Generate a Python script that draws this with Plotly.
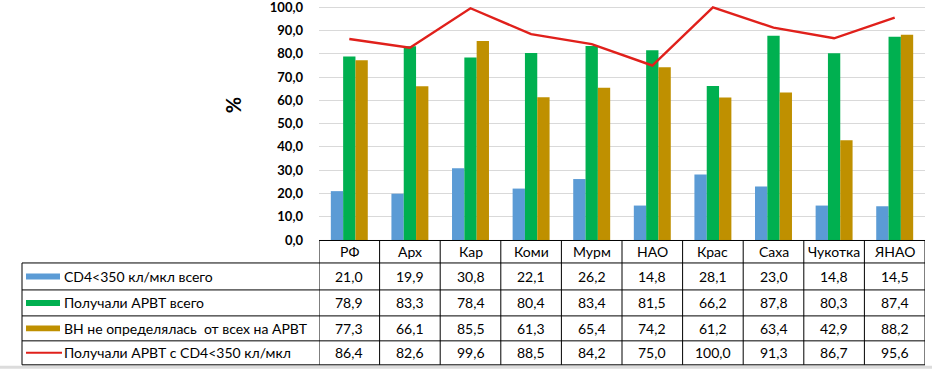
import plotly.graph_objects as go

categories = ["РФ", "Арх", "Кар", "Коми", "Мурм", "НАО", "Крас", "Саха", "Чукотка", "ЯНАО"]
cd4_total = [21.0, 19.9, 30.8, 22.1, 26.2, 14.8, 28.1, 23.0, 14.8, 14.5]
arvt_total = [78.9, 83.3, 78.4, 80.4, 83.4, 81.5, 66.2, 87.8, 80.3, 87.4]
vl_not_measured = [77.3, 66.1, 85.5, 61.3, 65.4, 74.2, 61.2, 63.4, 42.9, 88.2]
arvt_cd4 = [86.4, 82.6, 99.6, 88.5, 84.2, 75.0, 100.0, 91.3, 86.7, 95.6]
y_ticks = [0, 10, 20, 30, 40, 50, 60, 70, 80, 90, 100]

series_names = [
    "CD4<350 кл/мкл всего",
    "Получали АРВТ всего",
    "ВН не определялась  от всех на АРВТ",
    "Получали АРВТ с CD4<350 кл/мкл",
]
colors = ["#5B9BD5", "#00B050", "#BF9000", "#E0201B"]

W, H = 932, 369
YMAX = 101.0
L, R, B = 319, 925, 240
PW = R - L
PH = 233 * YMAX / 100.0
T = B - PH


def py(p):
    return (B - p) / PH


def px(p):
    return (p - L) / PW


FONT = "Lato, Calibri, Carlito, sans-serif"
TXT = "#000000"
fig = go.Figure()
xs = list(range(len(categories)))
for vals, name, col in zip([cd4_total, arvt_total, vl_not_measured], series_names[:3], colors[:3]):
    fig.add_trace(go.Bar(x=xs, y=vals, name=name, marker=dict(color=col, line=dict(width=0))))
fig.add_trace(go.Scatter(x=xs, y=arvt_cd4, mode="lines", name=series_names[3],
                         line=dict(color=colors[3], width=2.4), cliponaxis=False))

shapes = []
annotations = []
line_style = dict(color="#000000", width=1)
shapes.append(dict(type="line", xref="x", yref="paper", x0=-0.5, x1=9.5, y0=py(240.5), y1=py(240.5), line=line_style))
for i in range(len(categories) + 1):
    shapes.append(dict(type="line", xref="x", yref="paper", x0=i - 0.5, x1=i - 0.5,
                       y0=py(240.5), y1=py(365), line=line_style))
shapes.append(dict(type="line", xref="paper", yref="paper", x0=px(22), x1=px(22),
                   y0=py(263), y1=py(365), line=line_style))
for yy in [263, 290, 316, 341, 365]:
    shapes.append(dict(type="line", xref="paper", yref="paper", x0=px(22), x1=1,
                       y0=py(yy), y1=py(yy), line=line_style))

row_centers = [276.5, 303, 328.5, 353]
for i, c in enumerate(categories):
    annotations.append(dict(x=i, y=py(252), xref="x", yref="paper", text=c, showarrow=False,
                            font=dict(family=FONT, size=14, color=TXT), xanchor="center", yanchor="middle"))
for r, vals in enumerate([cd4_total, arvt_total, vl_not_measured, arvt_cd4]):
    for i, v in enumerate(vals):
        annotations.append(dict(x=i, y=py(row_centers[r]), xref="x", yref="paper",
                                text=f"{v:.1f}".replace(".", ","), showarrow=False,
                                font=dict(family=FONT, size=14, color=TXT),
                                xanchor="center", yanchor="middle"))
    yc = row_centers[r]
    if r < 3:
        shapes.append(dict(type="rect", xref="paper", yref="paper", x0=px(26), x1=px(60),
                           y0=py(yc + 3), y1=py(yc - 3), fillcolor=colors[r], line=dict(width=0)))
    else:
        shapes.append(dict(type="line", xref="paper", yref="paper", x0=px(26), x1=px(62),
                           y0=py(yc), y1=py(yc), line=dict(color=colors[r], width=2)))
    annotations.append(dict(x=px(62), y=py(yc), xref="paper", yref="paper", text=series_names[r],
                            showarrow=False, font=dict(family=FONT, size=14, color=TXT),
                            xanchor="left", yanchor="middle"))

annotations.append(dict(x=px(233), y=py(105), xref="paper", yref="paper", text="<b>%</b>",
                        showarrow=False, textangle=-90, font=dict(family=FONT, size=20, color=TXT),
                        xanchor="center", yanchor="middle"))

shapes.append(dict(type="rect", xref="paper", yref="paper", x0=px(0), x1=px(W), y0=py(369), y1=py(366),
                   fillcolor="#DCDCDC", line=dict(width=0), layer="below"))

fig.update_layout(
    width=W, height=H,
    margin=dict(l=L, r=W - R, t=T, b=H - B, pad=0, autoexpand=False),
    paper_bgcolor="white", plot_bgcolor="white",
    barmode="group", bargap=0.39, bargroupgap=0,
    showlegend=False,
    font=dict(family=FONT, color=TXT),
    xaxis=dict(range=[-0.5, 9.5], showticklabels=False, showgrid=False, zeroline=False, showline=False,
               fixedrange=True, automargin=False),
    yaxis=dict(range=[0, YMAX], tickmode="array", tickvals=y_ticks,
               ticktext=[f"<b>{t:.1f}</b>".replace(".", ",") for t in y_ticks],
               showgrid=True, gridcolor="#D9D9D9", gridwidth=1, ticklabeloverflow="allow",
               zeroline=False, showline=False, ticklabelstandoff=15, automargin=False,
               tickfont=dict(family=FONT, size=13, color=TXT)),
    shapes=shapes, annotations=annotations,
)

fig.write_html(
    "out.html",
    config={"displayModeBar": False},
    post_script="document.body.style.margin='0';document.body.style.padding='0';"
                "document.documentElement.style.margin='0';",
)
